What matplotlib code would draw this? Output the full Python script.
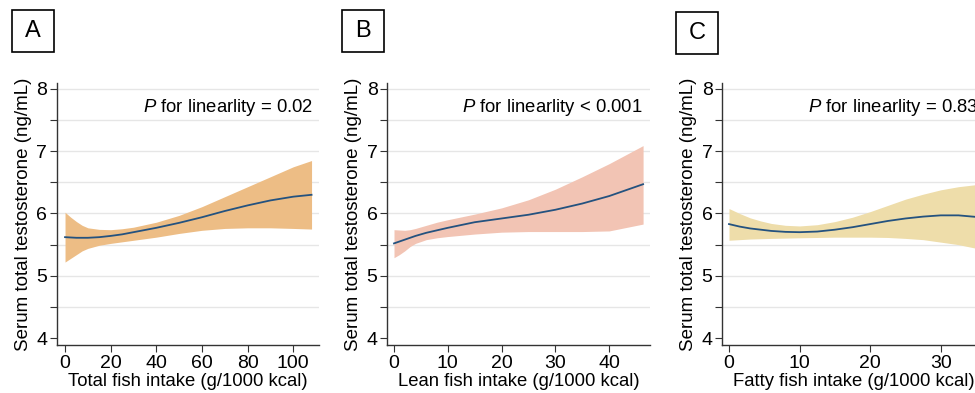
import matplotlib
matplotlib.use("Agg")
import matplotlib.pyplot as plt
from matplotlib.patches import Rectangle

plt.rcParams['font.family'] = ['Liberation Sans', 'DejaVu Sans']
plt.rcParams['mathtext.fontset'] = 'custom'
plt.rcParams['mathtext.it'] = 'Liberation Sans:italic'
plt.rcParams['mathtext.rm'] = 'Liberation Sans'

# Panel A - total fish
total_x = [0, 2.5, 5, 7.5, 10, 15, 20, 25, 30, 40, 50, 60, 70, 80, 90, 100, 108]
total_fit = [5.62, 5.615, 5.61, 5.61, 5.61, 5.62, 5.64, 5.665, 5.70, 5.77, 5.85, 5.94, 6.04, 6.13, 6.21, 6.27, 6.30]
total_hi = [6.02, 5.94, 5.87, 5.81, 5.77, 5.745, 5.74, 5.755, 5.78, 5.86, 5.97, 6.11, 6.27, 6.43, 6.59, 6.75, 6.85]
total_lo = [5.22, 5.28, 5.34, 5.40, 5.44, 5.49, 5.52, 5.545, 5.57, 5.62, 5.68, 5.73, 5.76, 5.77, 5.77, 5.76, 5.75]

# Panel B - lean fish
lean_x = [0, 1, 2, 3, 4, 6, 8, 10, 15, 20, 25, 30, 35, 40, 46.3]
lean_fit = [5.52, 5.55, 5.58, 5.61, 5.64, 5.69, 5.73, 5.77, 5.86, 5.92, 5.98, 6.06, 6.16, 6.28, 6.47]
lean_hi = [5.74, 5.735, 5.73, 5.74, 5.76, 5.81, 5.86, 5.90, 5.99, 6.09, 6.22, 6.39, 6.59, 6.80, 7.09]
lean_lo = [5.29, 5.34, 5.40, 5.47, 5.52, 5.58, 5.61, 5.63, 5.67, 5.70, 5.71, 5.71, 5.71, 5.72, 5.83]

# Panel C - fatty fish
fatty_x = [0, 1.5, 3, 4.5, 6, 8, 10, 12.5, 15, 17.5, 20, 22.5, 25, 27.5, 30, 32.5, 35.5]
fatty_fit = [5.83, 5.79, 5.76, 5.74, 5.72, 5.705, 5.70, 5.71, 5.74, 5.78, 5.83, 5.88, 5.92, 5.95, 5.97, 5.97, 5.94]
fatty_hi = [6.08, 6.00, 5.93, 5.88, 5.84, 5.81, 5.80, 5.82, 5.87, 5.94, 6.03, 6.13, 6.23, 6.31, 6.38, 6.43, 6.47]
fatty_lo = [5.57, 5.58, 5.59, 5.595, 5.60, 5.605, 5.61, 5.615, 5.62, 5.62, 5.62, 5.615, 5.60, 5.58, 5.54, 5.50, 5.43]

panels = [
    ("A", total_x, total_fit, total_lo, total_hi, "#EDBD85",
     "Total fish intake (g/1000 kcal)", [0, 20, 40, 60, 80, 100], (-3.5, 111.4), "= 0.02"),
    ("B", lean_x, lean_fit, lean_lo, lean_hi, "#F2C4B4",
     "Lean fish intake (g/1000 kcal)", [0, 10, 20, 30, 40], (-1.25, 47.5), "< 0.001"),
    ("C", fatty_x, fatty_fit, fatty_lo, fatty_hi, "#EEDDAA",
     "Fatty fish intake (g/1000 kcal)", [0, 10, 20, 30], (-0.95, 36.2), "= 0.83"),
]

fig = plt.figure(figsize=(9.75, 3.93), dpi=100)
lefts = [0.0585, 0.3972, 0.7408]
box_lefts = [12, 342, 676]
box_tops = [10, 10, 12]

for i, (lab, x, fit, lo, hi, col, xlabel, xt, xl, pval) in enumerate(panels):
    ax = fig.add_axes([lefts[i], 0.122, 0.269, 0.667])
    ax.fill_between(x, lo, hi, color=col, lw=0, zorder=2)
    ax.plot(x, fit, color="#24527F", lw=1.3, zorder=3)
    for g in [4.5, 5, 5.5, 6, 6.5, 7, 7.5, 8]:
        ax.axhline(g, color="#E6E6E6", lw=1, zorder=1)
    ax.set_xlim(*xl)
    ax.set_ylim(3.888, 8.096)
    ax.set_xticks(xt)
    ax.set_yticks([4, 5, 6, 7, 8])
    ax.set_yticks([4.5, 5.5, 6.5, 7.5], minor=True)
    ax.tick_params(axis="both", labelsize=14, length=5, width=0.8, color="#333333", pad=2)
    ax.tick_params(axis="y", which="minor", length=5, width=0.8, color="#333333")
    for s in ["top", "right"]:
        ax.spines[s].set_visible(False)
    for s in ["left", "bottom"]:
        ax.spines[s].set_color("#333333")
        ax.spines[s].set_linewidth(1.0)
    ax.set_xlabel(xlabel, fontsize=13.3, labelpad=1)
    ax.set_ylabel("Serum total testosterone (ng/mL)", fontsize=13.5, labelpad=3)
    ax.text(0.975, 0.905, r"$\mathit{P}$ for linearlity " + pval, transform=ax.transAxes,
            ha="right", va="center", fontsize=13.3)

    # panel letter box
    bx, by = box_lefts[i], box_tops[i]
    fig.patches.append(Rectangle((bx / 975, 1 - (by + 42) / 393), 42 / 975, 42 / 393,
                                 transform=fig.transFigure, fill=False, ec="black", lw=1.2))
    fig.text((bx + 21) / 975, 1 - (by + 21) / 393, lab, ha="center", va="center", fontsize=17)

fig.savefig("out.png", dpi=100)
